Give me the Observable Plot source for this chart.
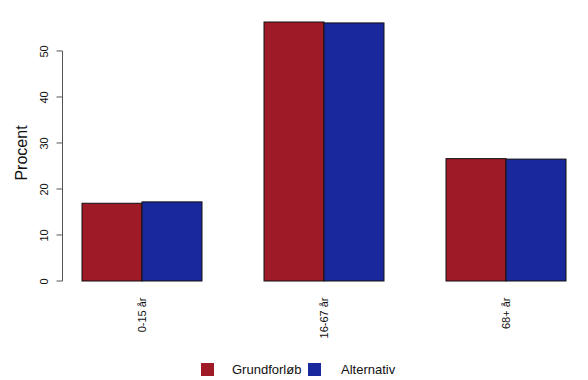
<!DOCTYPE html>
<html>
<head>
<meta charset="utf-8">
<script src="https://cdn.jsdelivr.net/npm/d3@7"></script>
<script src="https://cdn.jsdelivr.net/npm/@observablehq/plot@0.6"></script>
<style>
  body { margin: 0; background: #fff; font-family: "Liberation Sans", Arial, sans-serif; }
  #chart { width: 588px; }
  .legend { position: relative; height: 30px; font-size: 13px; color: #111; }
  .legend .sw { position: absolute; top: 13px; width: 13px; height: 13px; }
  .legend .lb { position: absolute; top: 12px; line-height: 15px; }
</style>
</head>
<body>
<div id="chart"></div>
<script>
const categories = ["0-15 år", "16-67 år", "68+ år"];
const series = ["Grundforløb", "Alternativ"];
const grundforlob = [16.9, 56.3, 26.6];
const alternativ = [17.2, 56.1, 26.5];
const yTicks = [0, 10, 20, 30, 40, 50];
const colors = ["#9E1A27", "#1A289E"];

const data = [];
categories.forEach((c, i) => {
  data.push({cat: c, series: series[0], value: grundforlob[i]});
  data.push({cat: c, series: series[1], value: alternativ[i]});
});

const pI = 0.335, pO = 0.104;
const width = 588, height = 350, marginLeft = 62, marginRight = 3;
const step = (width - marginLeft - marginRight) / (categories.length - pI + 2 * pO);
const axisShift = -pO * step;

const plot = Plot.plot({
  width, height,
  marginLeft, marginRight,
  marginTop: 25, marginBottom: 69,
  style: {fontFamily: "'Liberation Sans', Arial, sans-serif", background: "#fff"},
  fx: {domain: categories, paddingInner: pI, paddingOuter: pO, label: null},
  x: {domain: series, padding: 0, axis: null},
  y: {domain: [0, 55.65], axis: null},
  color: {domain: series, range: colors},
  marks: [
    Plot.barY(data, {fx: "cat", x: "series", y: "value", fill: "series", stroke: "#111", strokeWidth: 1, inset: 0}),
    Plot.axisY({ticks: yTicks, tickSize: 0, tickPadding: 15, dx: axisShift, rotate: -90, textAnchor: "middle", lineAnchor: "bottom", fontSize: 11, fill: "#111", label: null}),
    Plot.axisFx({anchor: "bottom", tickSize: 0, tickPadding: 16, rotate: -90, textAnchor: "end", lineAnchor: "middle", fontSize: 11, fill: "#111", label: null})
  ]
});

document.getElementById("chart").appendChild(plot);

// y axis line (0..50), ticks and label, positioned through the plot's own scales
const y = plot.scale("y");
const fx = plot.scale("fx");
const svg = d3.select(plot.tagName === "svg" ? plot : plot.querySelector("svg"));
const ax = fx.range[0] + 0.5;
const g = svg.append("g").attr("stroke", "#555").attr("stroke-width", 1);
g.append("line")
  .attr("x1", ax).attr("x2", ax)
  .attr("y1", y.apply(yTicks[0])).attr("y2", y.apply(yTicks[yTicks.length - 1]));
yTicks.forEach(t => {
  g.append("line")
    .attr("x1", ax - 6).attr("x2", ax)
    .attr("y1", y.apply(t)).attr("y2", y.apply(t));
});
svg.append("text")
  .attr("transform", `translate(27,${(y.apply(0) + y.apply(55.65)) / 2}) rotate(-90)`)
  .attr("text-anchor", "middle")
  .attr("font-size", 16)
  .attr("fill", "#111")
  .text("Procent");

// legend below the svg
const legend = d3.select("#chart").append("div").attr("class", "legend");
const legendPos = [{sw: 201, lb: 232}, {sw: 308, lb: 341}];
series.forEach((s, i) => {
  legend.append("div").attr("class", "sw").style("left", legendPos[i].sw + "px").style("background", colors[i]);
  legend.append("div").attr("class", "lb").style("left", legendPos[i].lb + "px").text(s);
});
</script>
</body>
</html>
